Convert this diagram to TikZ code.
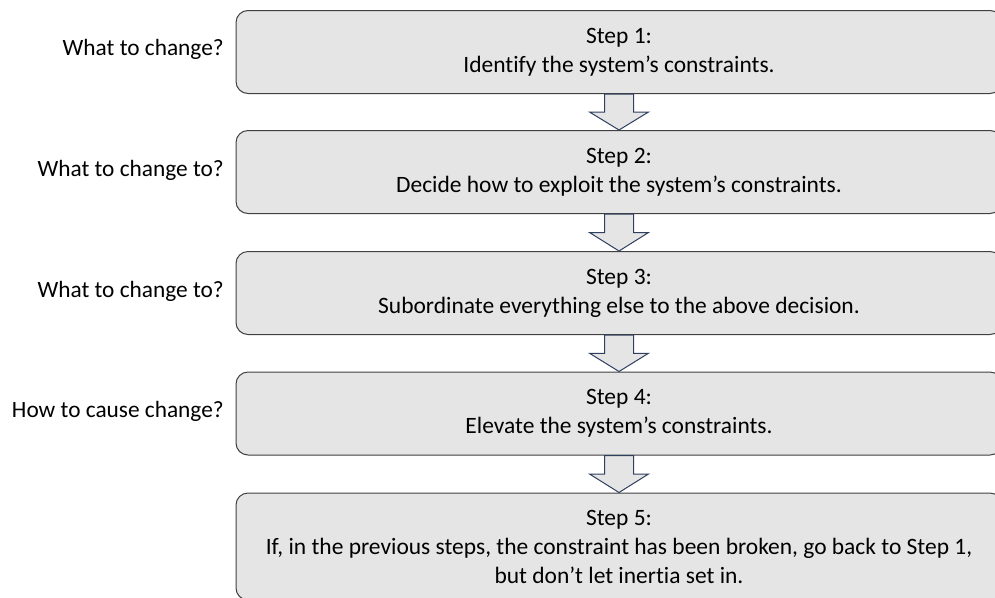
\documentclass[tikz,border=0pt]{standalone}
\usepackage{fontspec}
\setmainfont{Carlito}[Ligatures={NoCommon}]
\usetikzlibrary{calc}
\definecolor{boxfill}{HTML}{E5E5E5}
\definecolor{boxline}{HTML}{404040}
\definecolor{arrowline}{HTML}{2F3F60}
\tikzset{
  stepbox/.style={draw=boxline, fill=boxfill, line width=0.75pt, rounded corners=9pt,
    minimum width=574.5pt, minimum height=62.25pt, inner sep=0pt, align=center,
    font=\fontsize{17.6pt}{21.75pt}\selectfont},
  question/.style={anchor=east, inner sep=0pt, font=\fontsize{17.5pt}{20pt}\selectfont},
  blockarrow/.style={draw=arrowline, fill=boxfill, line width=0.75pt, line join=miter}
}
\newcommand{\downarrowbetween}[2]{%
  \draw[blockarrow]
    ($(#1.south)+(-14.5,0)$) --
    ($(#1.south)!0.5!(#2.north)+(-14.5,0)$) --
    ($(#1.south)!0.5!(#2.north)+(-29.5,0)$) --
    (#2.north) --
    ($(#1.south)!0.5!(#2.north)+(29.5,0)$) --
    ($(#1.south)!0.5!(#2.north)+(14.5,0)$) --
    ($(#1.south)+(14.5,0)$) -- cycle;}
\begin{document}
\begin{tikzpicture}[x=0.75pt,y=-0.75pt]
\useasboundingbox (0,0) rectangle (995,597);

% step boxes
\node[stepbox] (b1) at (619,52)    {Step 1:\\Identify the system’s constraints.};
\node[stepbox] (b2) at (619,172)   {Step 2:\\Decide how to exploit the system’s constraints.};
\node[stepbox] (b3) at (619,293)   {Step 3:\\Subordinate everything else to the above decision.};
\node[stepbox] (b4) at (619,413.5) {Step 4:\\Elevate the system’s constraints.};
\node[stepbox, minimum height=80.25pt] (b5) at (619,546.5)
  {Step 5:\\If, in the previous steps, the constraint has been broken, go back to Step 1,\\but don’t let inertia set in.};

% questions on the left
\node[question] (q1) at (224,49)  {What to change?};
\node[question] (q2) at (224,170) {What to change to?};
\node[question] (q3) at (224,291) {What to change to?};
\node[question] (q4) at (224,411) {How to cause change?};

% block arrows between the steps
\downarrowbetween{b1}{b2}
\downarrowbetween{b2}{b3}
\downarrowbetween{b3}{b4}
\downarrowbetween{b4}{b5}
\end{tikzpicture}
\end{document}
